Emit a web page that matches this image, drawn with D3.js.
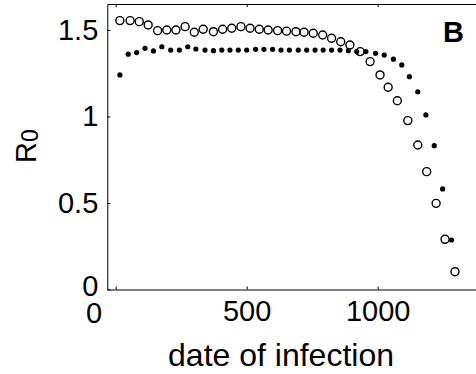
<!DOCTYPE html>
<html>
<head>
<meta charset="utf-8">
<script src="https://cdn.jsdelivr.net/npm/d3@7"></script>
<style>
  body { margin: 0; background: #fff; }
  svg { display: block; font-family: "Liberation Sans", Arial, sans-serif; }
  .axis path, .axis line { stroke: #000; stroke-width: 1; }
  .axis text { fill: #000; font-size: 29px; font-family: "Liberation Sans", Arial, sans-serif; }
</style>
</head>
<body>
<div id="chart"></div>
<script>
// date of infection for the open circles
const openDays = [16, 55, 90, 124, 160, 195, 230, 265, 300, 334, 373, 408, 443, 478, 513, 548, 582, 618, 652,
    688, 719, 754, 790, 824, 859, 894, 933, 971, 1009, 1040, 1075, 1115, 1153, 1187, 1223, 1257, 1295];
const openR0 = [1.554, 1.554, 1.548, 1.529, 1.496, 1.500, 1.500, 1.519, 1.487, 1.504, 1.490, 1.504, 1.510, 1.519,
    1.510, 1.504, 1.500, 1.496, 1.493, 1.490, 1.487, 1.481, 1.471, 1.452, 1.432, 1.413, 1.375, 1.317, 1.240,
    1.169, 1.091, 0.976, 0.835, 0.681, 0.498, 0.290, 0.103];

// date of infection for the filled dots
const filledDays = [16, 48, 80, 112, 144, 176, 210, 243, 275, 306, 341, 373, 405, 436, 468, 500, 534, 566, 599,
    631, 663, 697, 729, 761, 792, 824, 856, 888, 920, 955, 992, 1025, 1060, 1092, 1121, 1153, 1184, 1216,
    1248, 1282];
const filledR0 = [1.240, 1.360, 1.369, 1.394, 1.379, 1.403, 1.384, 1.384, 1.403, 1.390, 1.384, 1.380, 1.384,
    1.384, 1.384, 1.384, 1.388, 1.388, 1.388, 1.384, 1.384, 1.384, 1.384, 1.384, 1.384, 1.384, 1.384, 1.380,
    1.375, 1.375, 1.365, 1.355, 1.331, 1.298, 1.230, 1.143, 1.009, 0.831, 0.581, 0.286];

const xTicks = [0, 500, 1000];
const yTicks = [0, 0.5, 1, 1.5];
const xDomain = [-32, 1400];
const yDomain = [0, 1.65];

const width = 476, height = 374;
const plotLeft = 107.3, plotTop = 4, plotBottom = 289.5;

const svg = d3.select('#chart').append('svg')
    .attr('width', width)
    .attr('height', height);

const x = d3.scaleLinear().domain(xDomain).range([plotLeft, plotLeft + (xDomain[1] - xDomain[0]) * 0.262]);
const y = d3.scaleLinear().domain(yDomain).range([plotBottom, plotTop]);

const plain = d => String(d);

// axes, ticks pointing inward like matlab
const xAxisG = svg.append('g')
    .attr('class', 'axis')
    .attr('transform', `translate(0,${plotBottom})`)
    .call(d3.axisBottom(x).tickValues(xTicks).tickFormat(plain)
        .tickSizeInner(-3).tickSizeOuter(0).tickPadding(11));

svg.append('g')
    .attr('class', 'axis')
    .attr('transform', `translate(0,${plotTop})`)
    .call(d3.axisTop(x).tickValues(xTicks).tickSizeInner(-3).tickSizeOuter(0).tickFormat(''));

const yAxisG = svg.append('g')
    .attr('class', 'axis')
    .attr('transform', `translate(${plotLeft},0)`)
    .call(d3.axisLeft(y).tickValues(yTicks).tickFormat(plain)
        .tickSizeInner(-3).tickSizeOuter(0).tickPadding(9));

// the x zero label sits left of its tick in the original figure
xAxisG.selectAll('.tick text').filter(d => d === 0).attr('dx', -22).attr('dy', '0.78em');
yAxisG.selectAll('.tick text').filter(d => d === 0).attr('dy', '0.22em');

// open circles
svg.append('g').selectAll('circle')
    .data(openDays.map((d, i) => [d, openR0[i]]))
    .join('circle')
    .attr('cx', d => x(d[0]))
    .attr('cy', d => y(d[1]))
    .attr('r', 4)
    .attr('fill', '#fff')
    .attr('stroke', '#000')
    .attr('stroke-width', 1.4);

// filled dots
svg.append('g').selectAll('circle')
    .data(filledDays.map((d, i) => [d, filledR0[i]]))
    .join('circle')
    .attr('cx', d => x(d[0]))
    .attr('cy', d => y(d[1]))
    .attr('r', 2.6)
    .attr('fill', '#000');

// axis titles
svg.append('text')
    .attr('x', 281)
    .attr('y', 366)
    .attr('text-anchor', 'middle')
    .style('font-size', '32px')
    .text('date of infection');

const yTitle = svg.append('text')
    .attr('transform', 'translate(36,146) rotate(-90)')
    .attr('text-anchor', 'middle')
    .style('font-size', '29px');
yTitle.append('tspan').text('R');
yTitle.append('tspan').style('font-size', '23px').attr('dy', 2).text('0');

svg.append('text')
    .attr('x', 443)
    .attr('y', 42)
    .style('font-size', '29px')
    .style('font-weight', 'bold')
    .text('B');
</script>
</body>
</html>
